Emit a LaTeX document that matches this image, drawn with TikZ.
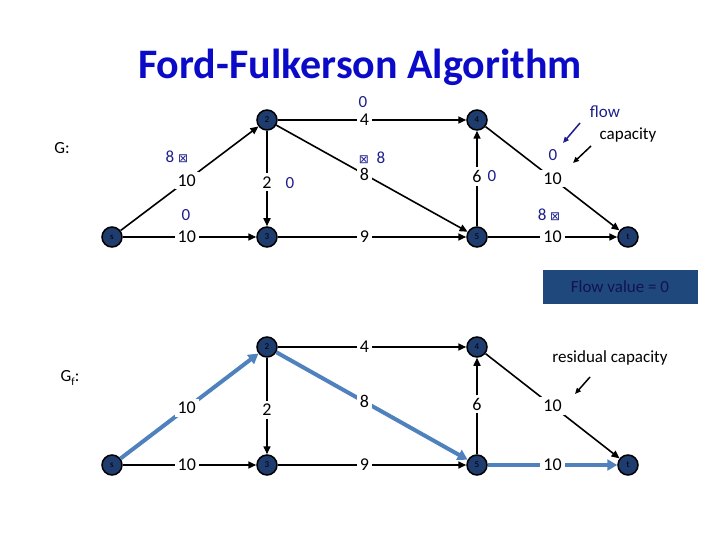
\documentclass[tikz,border=0pt]{standalone}
\usepackage{fontspec}
\setmainfont{Carlito}
\newfontfamily\dvs{DejaVu Sans}
\usetikzlibrary{arrows.meta}
\definecolor{nodeblue}{RGB}{31,60,110}
\definecolor{flowblue}{RGB}{30,30,140}
\definecolor{pathblue}{RGB}{79,129,189}
\definecolor{boxblue}{RGB}{31,73,125}
\definecolor{titleblue}{RGB}{10,10,200}
\tikzset{
 vert/.style={circle,draw=black,line width=1.5pt,fill=nodeblue,minimum size=20pt,inner sep=0pt,text=black,font=\small},
 edge/.style={line width=1.6pt,-{Triangle[length=8pt,width=7pt]}},
 pathedge/.style={line width=4pt,draw=pathblue,-{Triangle[length=10pt,width=11pt]}},
 caplbl/.style={fill=white,inner sep=3pt,font=\fontsize{18}{18}\selectfont},
 fl/.style={text=flowblue,font=\fontsize{17}{17}\selectfont},
 lbl/.style={font=\fontsize{17}{17}\selectfont}
}
\begin{document}
\begin{tikzpicture}[x=1pt,y=-1pt]
\useasboundingbox (0,0) rectangle (720,540);
\node[text=titleblue,font=\fontsize{42}{42}\selectfont\bfseries] (title) at (360,67) {Ford-Fulkerson Algorithm};
\node[lbl] (G) at (62,148) {G:};
% top graph
\node[vert] (s) at (112,237) {s};
\node[vert] (n2) at (267,120) {2};
\node[vert] (n3) at (267,237) {3};
\node[vert] (n4) at (477,120) {4};
\node[vert] (n5) at (477,237) {5};
\node[vert] (t) at (628,237) {t};
\draw[edge] (s) -- (n2) node[caplbl,pos=0.48] (c1) {10};
\draw[edge] (s) -- (n3) node[caplbl,pos=0.48] (c2) {10};
\draw[edge] (n2) -- (n3) node[caplbl,pos=0.54] (c3) {2};
\draw[edge] (n2) -- (n4) node[caplbl,pos=0.46] (c4) {4};
\draw[edge] (n2) -- (n5) node[caplbl,pos=0.46] (c5) {8};
\draw[edge] (n5) -- (n4) node[caplbl,pos=0.52] (c6) {6};
\draw[edge] (n4) -- (t) node[caplbl,pos=0.5] (c7) {10};
\draw[edge] (n3) -- (n5) node[caplbl,pos=0.46] (c8) {9};
\draw[edge] (n5) -- (t) node[caplbl,pos=0.5] (c9) {10};
\node[fl] (f1) at (177,157) {8 {\dvs\fontsize{12}{12}\selectfont ⊠}};
\node[fl] (f2) at (186,215) {0};
\node[fl] (f3) at (290,183) {0};
\node[fl] (f4) at (363,102) {0};
\node[fl] (f5) at (372,158) {{\dvs\fontsize{12}{12}\selectfont ⊠}\ \ 8};
\node[fl] (f6) at (492,176) {0};
\node[fl] (f7) at (553,155) {0};
\node[fl] (f9) at (549,215) {8 {\dvs\fontsize{12}{12}\selectfont ⊠}};
\node[text=flowblue,lbl] (flow) at (605,112) {flow};
\node[lbl] (capa) at (628,135) {capacity};
\coordinate (fa) at (580,123);
\coordinate (ca) at (591,146);
\draw[flowblue,line width=1.5pt,-{Triangle[length=6pt,width=5pt]}] (fa) -- (563,143);
\draw[black,line width=1.5pt,-{Triangle[length=6pt,width=5pt]}] (ca) -- (573,163);
\node[fill=boxblue,minimum width=155pt,minimum height=34pt,text=flowblue!60!black,lbl] (fv) at (620,287) {Flow value = 0};
% bottom graph
\node[lbl] (Gf) at (70,378) {G\raisebox{-4pt}{\fontsize{11}{11}\selectfont f}:};
\node[vert] (S) at (112,465) {s};
\node[vert] (m2) at (267,347) {2};
\node[vert] (m3) at (267,465) {3};
\node[vert] (m4) at (477,347) {4};
\node[vert] (m5) at (477,465) {5};
\node[vert] (T) at (628,465) {t};
\draw[pathedge] (S) -- (m2) node[caplbl,pos=0.48] (d1) {10};
\draw[edge] (S) -- (m3) node[caplbl,pos=0.48] (d2) {10};
\draw[edge] (m2) -- (m3) node[caplbl,pos=0.54] (d3) {2};
\draw[edge] (m2) -- (m4) node[caplbl,pos=0.46] (d4) {4};
\draw[pathedge] (m2) -- (m5) node[caplbl,pos=0.46] (d5) {8};
\draw[edge] (m5) -- (m4) node[caplbl,pos=0.52] (d6) {6};
\draw[edge] (m4) -- (T) node[caplbl,pos=0.5] (d7) {10};
\draw[edge] (m3) -- (m5) node[caplbl,pos=0.46] (d8) {9};
\draw[pathedge] (m5) -- (T) node[caplbl,pos=0.5] (d9) {10};
\node[lbl] (rc) at (610,358) {residual capacity};
\coordinate (ra) at (590,377);
\draw[black,line width=1.5pt,-{Triangle[length=6pt,width=5pt]}] (ra) -- (575,394);
\end{tikzpicture}
\end{document}
